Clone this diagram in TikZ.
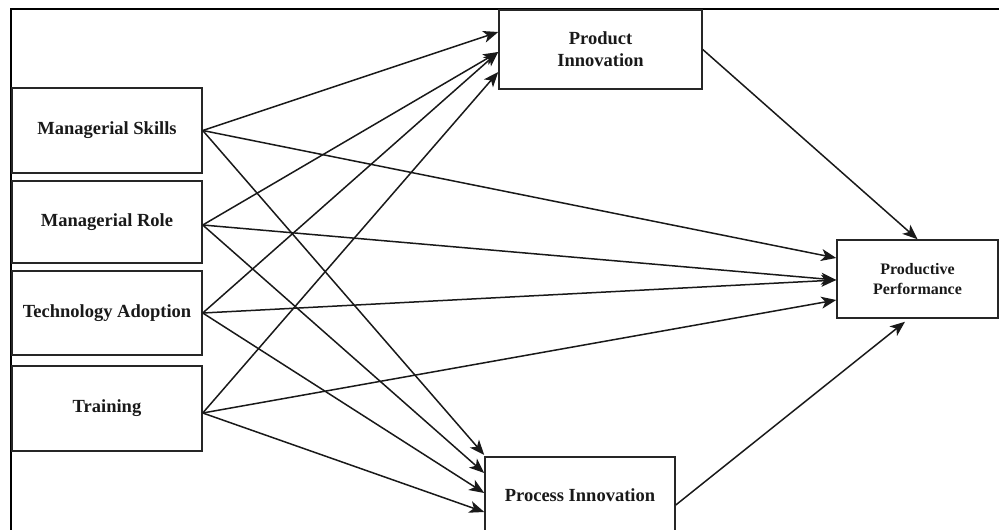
\documentclass[tikz,border=0pt]{standalone}
\usepackage{fontspec}
\setmainfont{Liberation Serif}
\usetikzlibrary{arrows.meta,positioning}
\begin{document}
\begin{tikzpicture}[x=1pt,y=-1pt,
  box/.style={draw=black!85,line width=1.5pt,rectangle,inner sep=0pt,align=center,
    font=\bfseries\fontsize{18.5}{22}\selectfont,text=black!90},
  arr/.style={draw=black!90,line width=1.5pt,-{Stealth[length=15pt,width=12pt,inset=4pt]}},
  ln/.style={draw=black!90,line width=1.5pt}]
\useasboundingbox (0,0) rectangle (999,530);
% frame
\coordinate (fbl) at (11,532);
\coordinate (ftl) at (11,9);
\coordinate (ftr) at (1001,9);
\draw[line width=2.4pt,black] (fbl) -- (ftl) -- (ftr);
% left boxes
\node[box,minimum width=190pt,minimum height=85pt] (ms) at (107,130.5) {Managerial Skills};
\node[box,minimum width=190pt,minimum height=82pt] (mr) at (107,222) {Managerial Role};
\node[box,minimum width=190pt,minimum height=84pt] (ta) at (107,313) {Technology Adoption};
\node[box,minimum width=190pt,minimum height=85pt] (tr) at (107,408.5) {Training};
% mediators
\node[box,minimum width=203pt,minimum height=79pt] (pi) at (600.5,49.5) {Product\\Innovation};
\node[box,minimum width=190pt,minimum height=76pt] (pri) at (580,495) {Process Innovation};
% outcome
\node[box,minimum width=161pt,minimum height=78pt,font=\bfseries\fontsize{16}{20}\selectfont] (pp) at (917.5,279) {Productive\\Performance};
% sources
\coordinate (s1) at ([yshift=0pt]ms.east);
\coordinate (s2) at ([yshift=-3pt]mr.east);
\coordinate (s3) at ([yshift=0pt]ta.east);
\coordinate (s4) at ([yshift=-4.5pt]tr.east);
% to product innovation
\draw[arr] (s1) -- ([yshift=17.5pt]pi.west);
\draw[arr] (s2) -- ([yshift=-2.5pt]pi.west);
\draw[arr] (s3) -- ([yshift=-2.5pt]pi.west);
\draw[arr] (s4) -- ([yshift=-22.5pt]pi.west);
% to process innovation
\draw[arr] (s1) -- ([yshift=40pt]pri.west);
\draw[arr] (s2) -- ([yshift=22pt]pri.west);
\draw[arr] (s3) -- ([yshift=2pt]pri.west);
\draw[arr] (s4) -- ([yshift=-17pt]pri.west);
% to productive performance
\draw[arr] (s1) -- ([yshift=21pt]pp.west);
\draw[arr] (s2) -- ([yshift=-1pt]pp.west);
\draw[arr] (s3) -- ([yshift=-1pt]pp.west);
\draw[arr] (s4) -- ([yshift=-21pt]pp.west);
% mediators to outcome
\draw[arr] (pi.east) -- (pp.north);
\draw[arr] ([yshift=-10pt]pri.east) -- ([xshift=-12.5pt,yshift=-3pt]pp.south);
\end{tikzpicture}
\end{document}
